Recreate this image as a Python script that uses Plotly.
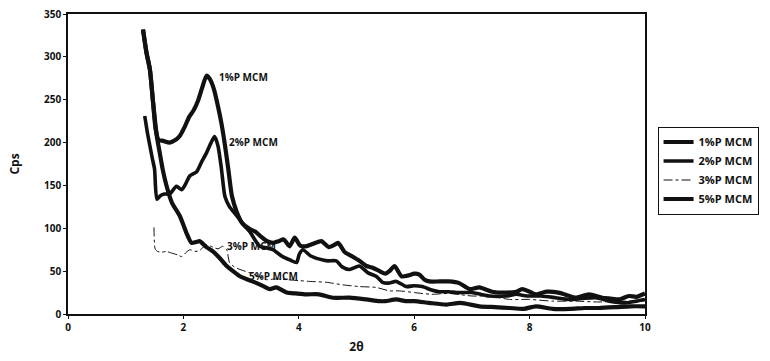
import plotly.graph_objects as go

# Low-angle XRD patterns (counts per second vs 2-theta) for P-doped MCM samples
x_1p = [1.30, 1.36, 1.42, 1.47, 1.52, 1.57, 1.65, 1.76, 1.86, 1.94, 2.02, 2.10, 2.18, 2.26, 2.33,
        2.40, 2.46, 2.53, 2.60, 2.66, 2.72, 2.78, 2.84, 2.92, 3.02, 3.15, 3.25, 3.35, 3.45, 3.55,
        3.65, 3.74, 3.84, 3.93, 4.02, 4.12, 4.25, 4.39, 4.52, 4.60, 4.68, 4.80, 4.93, 5.05, 5.17,
        5.28, 5.40, 5.50, 5.57, 5.66, 5.78, 5.90, 6.00, 6.09, 6.18, 6.26, 6.44, 6.60, 6.78, 6.96,
        7.13, 7.35, 7.60, 7.77, 7.87, 8.00, 8.11, 8.29, 8.50, 8.65, 8.80, 9.03, 9.26, 9.40, 9.55,
        9.72, 9.85, 10.0]
y_1p = [332, 305, 285, 250, 215, 203, 202, 200, 203, 208, 218, 230, 238, 250, 265,
        278, 274, 262, 242, 222, 197, 168, 138, 120, 106, 99, 96, 90, 85, 83,
        85, 87, 79, 89, 80, 79, 82, 85, 78, 80, 83, 72, 67, 62, 56,
        54, 50, 47, 50, 56, 44, 45, 47, 46, 40, 38, 38, 38, 36, 29,
        31, 26, 25, 26, 29, 26, 23, 26, 25, 22, 19, 23, 19, 18, 17,
        21, 20, 24]

x_2p = [1.33, 1.38, 1.42, 1.46, 1.50, 1.54, 1.60, 1.67, 1.76, 1.88, 1.97, 2.04, 2.11, 2.23, 2.32,
        2.40, 2.48, 2.54, 2.60, 2.66, 2.72, 2.80, 2.86, 2.92, 3.03, 3.15, 3.32, 3.45, 3.55, 3.72,
        3.85, 3.96, 4.01, 4.07, 4.20, 4.36, 4.50, 4.65, 4.75, 4.88, 5.05, 5.20, 5.34, 5.45, 5.55,
        5.69, 5.86, 6.00, 6.14, 6.30, 6.44, 6.60, 6.73, 7.00, 7.15, 7.30, 7.60, 7.77, 7.95, 8.20,
        8.45, 8.68, 8.90, 9.15, 9.38, 9.67, 9.85, 10.0]
y_2p = [231, 210, 196, 182, 169, 134, 138, 140, 140, 149, 145, 152, 161, 166, 178,
        188, 200, 207, 196, 169, 137, 125, 120, 115, 105, 96, 79, 77, 75, 67,
        63, 60, 70, 75, 68, 64, 62, 62, 55, 52, 56, 48, 44, 37, 36,
        38, 32, 33, 32, 28, 26, 26, 25, 25, 23, 21, 21, 23, 21, 21,
        19, 17, 18, 19, 15, 13, 15, 17]

x_3p = [1.49, 1.51, 1.55, 1.62, 1.70, 1.80, 1.90, 1.97, 2.05, 2.11, 2.20, 2.28, 2.40, 2.51, 2.60,
        2.68, 2.75, 2.80, 2.88, 2.98, 3.15, 3.30, 3.44, 3.60, 3.79, 4.00, 4.19, 4.48, 4.76, 5.05,
        5.34, 5.57, 5.74, 6.00, 6.30, 6.60, 7.00, 7.30, 7.65, 8.00, 8.40, 8.80, 9.20, 9.60, 10.0]
y_3p = [101, 76, 73, 72, 73, 71, 69, 67, 72, 75, 73, 74, 81, 78, 76,
        79, 75, 60, 55, 52, 48, 44, 40, 41, 40, 39, 38, 37, 34, 32,
        31, 27, 27, 25, 23, 24, 21, 21, 17, 17, 15, 15, 14, 15, 15]

x_5p = [1.30, 1.36, 1.42, 1.47, 1.54, 1.59, 1.64, 1.71, 1.80, 1.94, 2.05, 2.14, 2.22, 2.28, 2.40,
        2.51, 2.62, 2.75, 2.86, 2.98, 3.12, 3.27, 3.40, 3.50, 3.61, 3.79, 3.95, 4.13, 4.35, 4.59,
        4.88, 5.17, 5.40, 5.50, 5.69, 5.85, 6.00, 6.26, 6.56, 6.80, 7.13, 7.40, 7.65, 7.90, 8.11,
        8.40, 8.70, 8.95, 9.20, 9.50, 9.75, 10.0]
y_5p = [332, 305, 285, 250, 207, 188, 169, 149, 130, 114, 95, 83, 84, 85, 78,
        73, 66, 56, 50, 44, 40, 36, 32, 29, 31, 25, 24, 23, 23, 19,
        19, 17, 15, 15, 17, 15, 15, 13, 11, 13, 9, 8, 7, 6, 9,
        6, 6, 7, 7, 8, 9, 9]

series_names = ["1%P MCM", "2%P MCM", "3%P MCM", "5%P MCM"]

# in-plot labels: (text, x, y) anchored at their left edge
label_pos = [("1%P MCM", 2.58, 277), ("2%P MCM", 2.75, 201),
             ("3%P MCM", 2.72, 79), ("5%P MCM", 3.11, 44)]

FONT = "Open Sans"
INK = "#111111"

styles = [dict(width=4.2), dict(width=3.6), dict(width=1, dash="dashdot"), dict(width=4.2)]
xs = [x_1p, x_2p, x_3p, x_5p]
ys = [y_1p, y_2p, y_3p, y_5p]

fig = go.Figure()
for name, xv, yv, st in zip(series_names, xs, ys, styles):
    fig.add_trace(go.Scatter(
        x=xv, y=yv, name=name, mode="lines",
        line=dict(color=INK, shape="spline", smoothing=0.6, **st),
    ))

for text, lx, ly in label_pos:
    fig.add_annotation(x=lx, y=ly, text=f"<b>{text}</b>", showarrow=False,
                       xanchor="left", yanchor="middle",
                       font=dict(family=FONT, size=10, color=INK))

axis_common = dict(showgrid=False, zeroline=False, showline=True, linecolor=INK,
                   linewidth=1.5, mirror=True, ticks="outside", ticklen=3,
                   tickcolor=INK, automargin=False,
                   tickfont=dict(family=FONT, size=10, color=INK, weight="bold"))

fig.update_xaxes(range=[0, 10], dtick=2, tick0=0,
                 title=dict(text="<b>2θ</b>", font=dict(family=FONT, size=12, color=INK), standoff=10),
                 **axis_common)
fig.update_yaxes(range=[0, 350], dtick=50, tick0=0,
                 title=dict(text="<b>Cps</b>", font=dict(family=FONT, size=12, color=INK), standoff=22),
                 **axis_common)

fig.update_layout(
    width=770, height=361,
    margin=dict(l=68, r=124, t=14, b=47),
    paper_bgcolor="white", plot_bgcolor="white",
    font=dict(family=FONT, color=INK),
    legend=dict(x=1.02, y=0.625, xanchor="left", yanchor="top",
                bordercolor=INK, borderwidth=1, bgcolor="white",
                font=dict(family=FONT, size=11, color=INK, weight="bold"),
                itemwidth=30, tracegroupgap=0),
)

fig.write_html("out.html")
